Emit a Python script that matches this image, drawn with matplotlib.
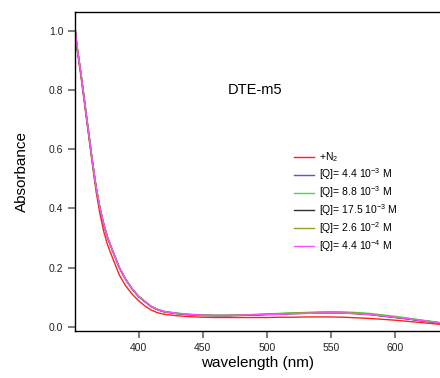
import numpy as np
import matplotlib.pyplot as plt

plt.rcParams['font.family'] = ['Liberation Sans', 'DejaVu Sans']
plt.rcParams['mathtext.fontset'] = 'custom'
plt.rcParams['mathtext.rm'] = 'Liberation Sans'
plt.rcParams['mathtext.it'] = 'Liberation Sans'

# Datos
wavelength = [350, 352, 355, 358, 361, 364, 367, 370, 373, 376, 380, 385, 390, 395,
              400, 405, 410, 415, 420, 430, 440, 450, 460, 470, 480, 490, 500, 510,
              520, 530, 540, 550, 560, 570, 580, 590, 600, 610, 620, 630, 635]

abs_n2 = [1.020, 0.940, 0.850, 0.750, 0.650, 0.550, 0.455, 0.380, 0.320, 0.275, 0.230,
          0.175, 0.138, 0.110, 0.088, 0.070, 0.056, 0.047, 0.042, 0.037, 0.034, 0.032,
          0.031, 0.031, 0.031, 0.031, 0.031, 0.032, 0.032, 0.033, 0.033, 0.033, 0.032,
          0.030, 0.028, 0.025, 0.022, 0.018, 0.014, 0.010, 0.008]
abs_q44m3 = [1.030, 0.950, 0.860, 0.760, 0.660, 0.560, 0.470, 0.400, 0.345, 0.300, 0.255,
             0.200, 0.160, 0.128, 0.103, 0.085, 0.068, 0.058, 0.051, 0.045, 0.041, 0.039,
             0.038, 0.038, 0.039, 0.040, 0.042, 0.043, 0.045, 0.046, 0.047, 0.048, 0.047,
             0.045, 0.042, 0.037, 0.032, 0.027, 0.021, 0.016, 0.013]
abs_q88m3 = [1.032, 0.952, 0.862, 0.762, 0.662, 0.562, 0.472, 0.401, 0.346, 0.301, 0.256,
             0.201, 0.161, 0.129, 0.104, 0.086, 0.069, 0.059, 0.052, 0.046, 0.042, 0.040,
             0.039, 0.039, 0.040, 0.041, 0.043, 0.045, 0.047, 0.048, 0.050, 0.051, 0.050,
             0.048, 0.045, 0.040, 0.035, 0.029, 0.023, 0.017, 0.014]
abs_q175m3 = [1.029, 0.949, 0.859, 0.759, 0.659, 0.559, 0.469, 0.399, 0.344, 0.299, 0.254,
              0.199, 0.159, 0.127, 0.102, 0.084, 0.067, 0.057, 0.050, 0.044, 0.040, 0.038,
              0.037, 0.037, 0.038, 0.039, 0.041, 0.042, 0.044, 0.045, 0.046, 0.047, 0.046,
              0.044, 0.041, 0.036, 0.031, 0.026, 0.020, 0.015, 0.012]
abs_q26m2 = [1.030, 0.950, 0.860, 0.760, 0.660, 0.560, 0.470, 0.400, 0.345, 0.300, 0.255,
             0.200, 0.160, 0.128, 0.103, 0.085, 0.068, 0.058, 0.051, 0.045, 0.041, 0.039,
             0.038, 0.039, 0.040, 0.041, 0.043, 0.044, 0.046, 0.047, 0.048, 0.049, 0.048,
             0.046, 0.043, 0.038, 0.033, 0.028, 0.022, 0.016, 0.013]
abs_q44m4 = [1.030, 0.950, 0.860, 0.760, 0.660, 0.560, 0.470, 0.400, 0.345, 0.300, 0.255,
             0.200, 0.160, 0.128, 0.103, 0.085, 0.068, 0.058, 0.051, 0.045, 0.041, 0.039,
             0.038, 0.038, 0.039, 0.040, 0.041, 0.042, 0.044, 0.045, 0.046, 0.047, 0.046,
             0.044, 0.041, 0.037, 0.032, 0.027, 0.021, 0.016, 0.013]

series = [abs_n2, abs_q44m3, abs_q88m3, abs_q175m3, abs_q26m2, abs_q44m4]
labels = [r'+N$_2$',
          r'[Q]= 4.4 10$^{-3}$ M',
          r'[Q]= 8.8 10$^{-3}$ M',
          r'[Q]= 17.5 10$^{-3}$ M',
          r'[Q]= 2.6 10$^{-2}$ M',
          r'[Q]= 4.4 10$^{-4}$ M']
colors = ['#ff2020', '#5050ff', '#40e040', '#303030', '#9a9a30', '#ff50ff']

fig = plt.figure(figsize=(4.4, 3.78), dpi=100)
ax = fig.add_axes([0.1705, 0.124, 0.8295, 0.844])

for y, lab, c in zip(series, labels, colors):
    ax.plot(wavelength, y, color=c, lw=1, label=lab)

ax.set_xlim(350.5, 635)
ax.set_ylim(-0.015, 1.064)
ax.set_xticks([400, 450, 500, 550, 600])
ax.set_yticks([0.0, 0.2, 0.4, 0.6, 0.8, 1.0])
ax.set_yticklabels(['0.0', '0.2', '0.4', '0.6', '0.8', '1.0'])
ax.tick_params(direction='out', length=5, width=1.2, color='#666666',
               labelsize=7.5, labelcolor='#222222')
ax.spines['right'].set_visible(False)
for s in ['left', 'bottom', 'top']:
    ax.spines[s].set_linewidth(1)

ax.set_xlabel('wavelength (nm)', fontsize=11, labelpad=2)
ax.set_ylabel('Absorbance', fontsize=11, labelpad=14)
ax.text(491, 0.80, 'DTE-m5', fontsize=10.5, ha='center', va='center')

ax.legend(loc='upper left', bbox_to_anchor=(0.575, 0.595), frameon=False,
          fontsize=7.5, handlelength=1.9, labelspacing=0.2, handletextpad=0.45)

plt.savefig('out.png', dpi=100)
